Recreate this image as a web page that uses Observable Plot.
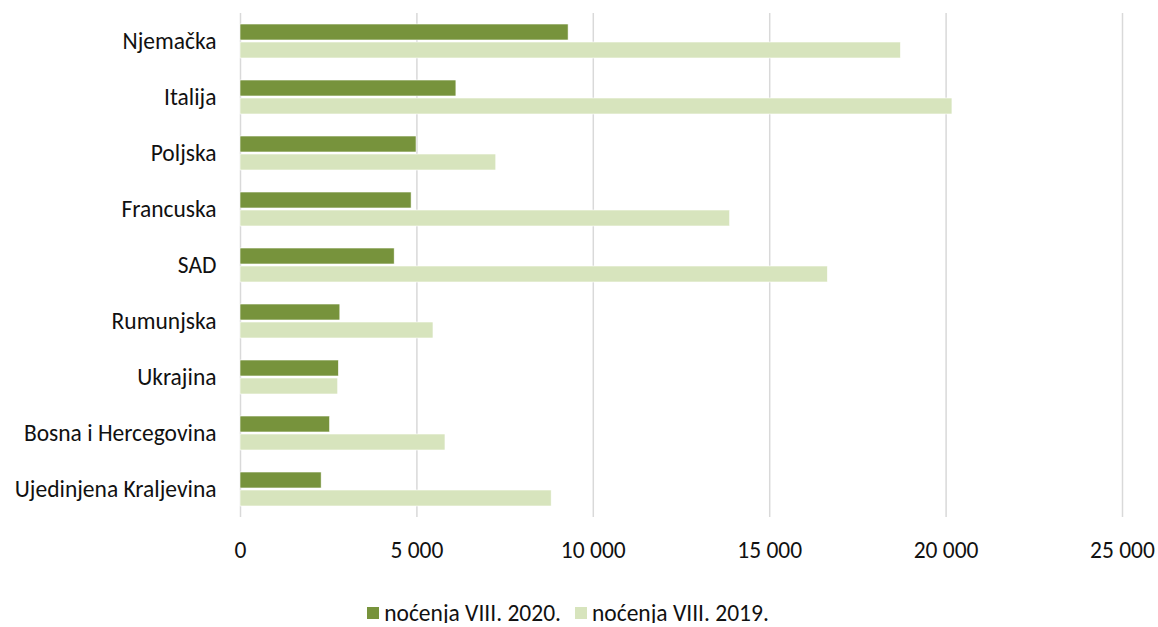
<!DOCTYPE html>
<html><head><meta charset="utf-8">
<script src="https://cdn.jsdelivr.net/npm/d3@7"></script>
<script src="https://cdn.jsdelivr.net/npm/@observablehq/plot@0.6"></script>
<style>
html,body{margin:0;background:#fff;font-family:Carlito,Calibri,"Open Sans",sans-serif;color:#111;overflow:hidden;}
#chart svg{display:block;}
#legend{display:flex;justify-content:center;align-items:center;height:20px;line-height:20px;margin-top:28px;font-size:23.5px;margin-left:-22px;}
#legend .item{display:flex;align-items:center;margin:0 7px;}
#legend .sw{width:12px;height:12px;margin-right:5px;}
</style></head><body>
<div id="chart"></div>
<div id="legend"></div>
<script>
const countries = ["Njemačka","Italija","Poljska","Francuska","SAD","Rumunjska","Ukrajina","Bosna i Hercegovina","Ujedinjena Kraljevina"];
const values2020 = [9300, 6120, 4990, 4850, 4370, 2830, 2790, 2540, 2300];
const values2019 = [18720, 20180, 7250, 13880, 16650, 5470, 2770, 5810, 8820];
const seriesNames = ["noćenja VIII. 2020.", "noćenja VIII. 2019."];
const colors = ["#77933c", "#d7e4bd"];
const xTicks = [0, 5000, 10000, 15000, 20000, 25000];

const data = countries.flatMap((c, i) => [
  {country: c, series: seriesNames[0], value: values2020[i]},
  {country: c, series: seriesNames[1], value: values2019[i]}
]);
const fmt = d => d3.format(",")(d).replace(/,/g, " ");

const font = 'Carlito, Calibri, "Open Sans", sans-serif';
const chart = Plot.plot({
  width: 1158, height: 575,
  marginLeft: 240, marginRight: 36, marginTop: 12, marginBottom: 57,
  style: {fontFamily: font, color: "#111", background: "#fff"},
  x: {domain: [0, 25000], axis: null},
  y: {domain: seriesNames, axis: null, paddingInner: 0.1, paddingOuter: 0.57},
  fy: {domain: countries, padding: 0, axis: null},
  color: {domain: seriesNames, range: colors},
  marks: [
    Plot.ruleX(xTicks, {stroke: "#d9d9d9", strokeWidth: 1.5}),
    Plot.barX(data, {fy: "country", y: "series", x: "value", fill: "series", stroke: "#fff", strokeWidth: 0.6}),
    Plot.axisX(xTicks, {anchor: "bottom", tickSize: 0, tickPadding: 24, tickFormat: fmt, fontSize: 23.5, label: null, fontFamily: font}),
    Plot.axisFy({anchor: "left", tickSize: 0, tickPadding: 24, fontSize: 23.5, label: null, fontFamily: font})
  ]
});
document.getElementById("chart").appendChild(chart);

const legend = document.getElementById("legend");
seriesNames.forEach((s, i) => {
  const item = document.createElement("div");
  item.className = "item";
  const sw = document.createElement("span");
  sw.className = "sw";
  sw.style.background = colors[i];
  const t = document.createElement("span");
  t.textContent = s;
  item.appendChild(sw); item.appendChild(t);
  legend.appendChild(item);
});
</script>
</body></html>
